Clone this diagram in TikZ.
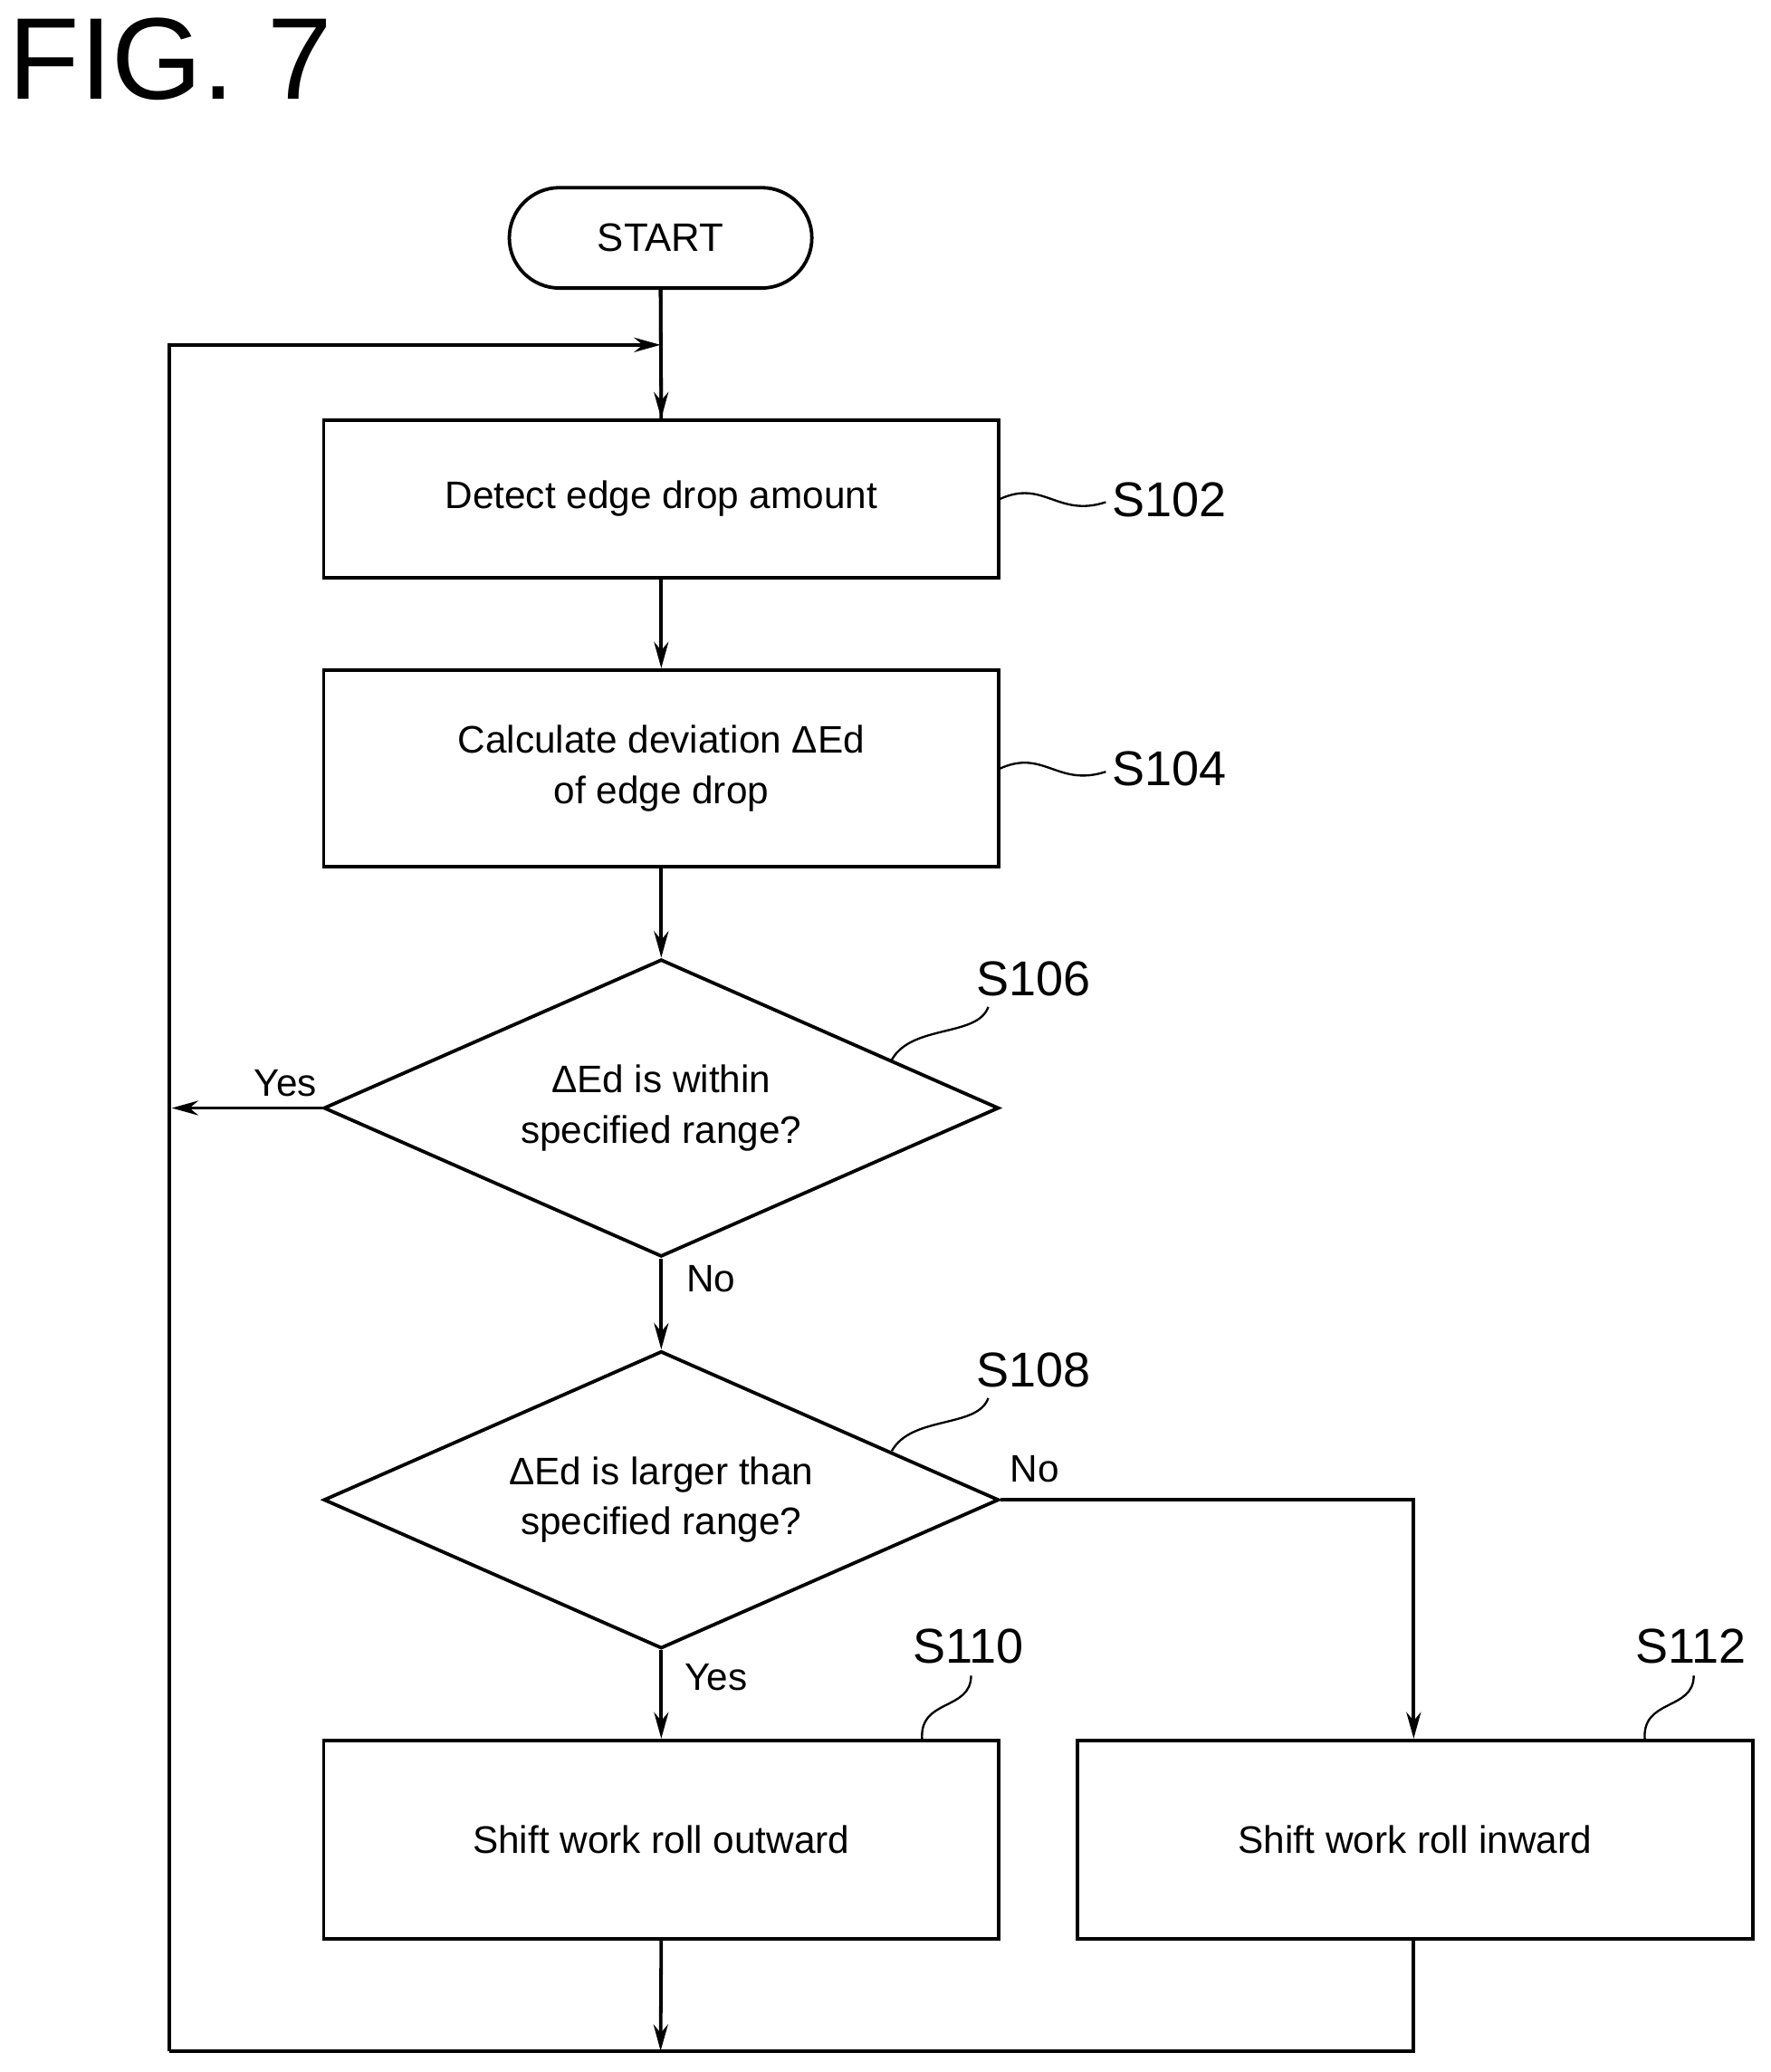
\documentclass[tikz,border=0pt]{standalone}
\usepackage{fontspec}
\setmainfont{Liberation Sans}
\usetikzlibrary{arrows.meta,shapes.geometric}
\begin{document}
\begin{tikzpicture}[x=1pt,y=-1pt,line width=2.6pt,
  box/.style={draw,minimum width=511pt,inner sep=0pt,align=center,font=\fontsize{29}{38}\selectfont},
  dia/.style={draw,diamond,minimum width=511pt,minimum height=225pt,aspect=2.27,inner sep=0pt,align=center,font=\fontsize{29}{38}\selectfont},
  lab/.style={font=\fontsize{37}{40}\selectfont},
  small/.style={font=\fontsize{29}{34}\selectfont},
  arr/.style={-{Stealth[length=20pt,width=11pt]}},
  sq/.style={line width=1.6pt}]
\useasboundingbox (0,0) rectangle (1340,1568);
\node[anchor=west,font=\fontsize{88}{90}\selectfont] (fig) at (2,45) {FIG. 7};
\node[draw,rounded corners=38pt,minimum width=229pt,minimum height=76pt,font=\fontsize{30}{34}\selectfont] (start) at (500,180) {START};
\node[box,minimum height=119pt] (b1) at (500.5,377.5) {Detect edge drop amount};
\node[box,minimum height=149pt] (b2) at (500.5,581.5) {Calculate deviation ΔEd\\of edge drop};
\node[dia] (d1) at (500.5,838.5) {ΔEd is within\\specified range?};
\node[dia] (d2) at (500.5,1135) {ΔEd is larger than\\specified range?};
\node[box,minimum height=150pt] (b3) at (500.5,1392) {Shift work roll outward};
\node[box,minimum height=150pt] (b4) at (1071,1392) {Shift work roll inward};
\coordinate (tl) at (128,261); \coordinate (bl) at (128,1552);
\coordinate (bm) at (500,1552); \coordinate (br) at (1070,1552);
\coordinate (nr) at (1070,1135);
\draw (start.south) -- (b1.north);
\draw[arr] (500,218) -- (b1.north);
\draw[arr] (bl) -- (tl) -- (500,261);
\draw[arr] (b1.south) -- (b2.north);
\draw[arr] (b2.south) -- (d1.north);
\draw[arr] (d1.west) -- (130,838.5);
\draw[arr] (d1.south) -- (d2.north);
\draw[arr] (d2.east) -- (nr) -- (b4.north -| nr);
\draw[arr] (d2.south) -- (b3.north);
\draw[arr] (b3.south) -- (bm);
\draw (b4.south -| br) -- (br) -- (bl);
\node[small] (yes1) at (216,820) {Yes};
\node[small] (no1) at (538,968) {No};
\node[small] (no2) at (783,1112) {No};
\node[small] (yes2) at (542,1269) {Yes};
\node[lab] (s102) at (885,378) {S102};
\node[lab] (s104) at (885,582) {S104};
\node[lab] (s106) at (782,741) {S106};
\node[lab] (s108) at (782,1037) {S108};
\node[lab] (s110) at (733,1246) {S110};
\node[lab] (s112) at (1280,1246) {S112};
\draw[sq] (756,378) .. controls (790,362) and (800,392) .. (837,380);
\draw[sq] (756,582) .. controls (790,566) and (800,596) .. (837,584);
\draw[sq] (675,802) .. controls (690,775) and (740,785) .. (748,762);
\draw[sq] (675,1098) .. controls (690,1071) and (740,1081) .. (748,1058);
\draw[sq] (698,1317) .. controls (695,1285) and (735,1295) .. (735,1268);
\draw[sq] (1245,1317) .. controls (1242,1285) and (1282,1295) .. (1282,1268);
\end{tikzpicture}
\end{document}
